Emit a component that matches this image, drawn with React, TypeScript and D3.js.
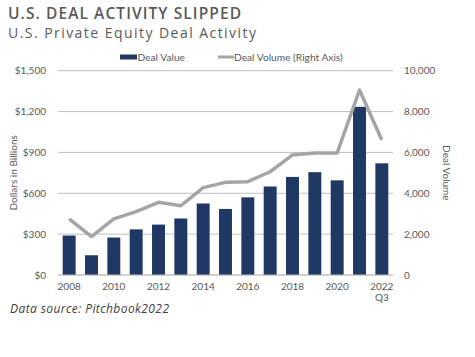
import React from "react";
import * as d3 from "d3";

const years = ["2008","2009","2010","2011","2012","2013","2014","2015","2016","2017","2018","2019","2020","2021","2022"];
const dealValue = [290,145,275,335,370,415,525,485,570,650,720,755,695,1235,820];
const dealVolume = [2750,1875,2750,3100,3560,3390,4275,4535,4570,5055,5875,5970,5970,9055,6610];
const leftTicks = [0,300,600,900,1200,1500];
const rightTicks = [0,2000,4000,6000,8000,10000];
const xTickYears = ["2008","2010","2012","2014","2016","2018","2020","2022"];

const W = 475, H = 357;
const left = 58, right = 393, top = 70.7, bottom = 275;
const NAVY = "#203864";
const LINEGRAY = "#a5a5a5";
const TEXT = "#595959";
const AXF = "Lato, 'Liberation Sans', sans-serif";

export default function App() {
  const x = d3.scaleBand<string>().domain(years).range([left, right]).paddingInner(0.42).paddingOuter(0.21);
  const yL = d3.scaleLinear().domain([0, 1500]).range([bottom, top]);
  const yR = d3.scaleLinear().domain([0, 10000]).range([bottom, top]);
  const cx = (d: string) => (x(d) as number) + x.bandwidth() / 2;
  const line = d3.line<number>().x((_, i) => cx(years[i])).y((v) => yR(v));

  return (
    <svg width={W} height={H} style={{ position: "absolute", left: 0, top: 0, background: "#fff" }}>
      <text x={8} y={19} fontFamily="'Open Sans', sans-serif" fontWeight={600} fontSize={15.5} fill={TEXT} textLength={233} lengthAdjust="spacing">U.S. DEAL ACTIVITY SLIPPED</text>
      <text x={8} y={37.5} fontFamily="'Open Sans', sans-serif" fontSize={14} fill={TEXT} textLength={248} lengthAdjust="spacing">U.S. Private Equity Deal Activity</text>

      {/* legend */}
      <rect x={120} y={54.5} width={17} height={5} fill={NAVY} />
      <text x={137.5} y={60.5} fontFamily={AXF} fontSize={10.2} fill={TEXT}>Deal Value</text>
      <rect x={218} y={55.5} width={16} height={3} fill={LINEGRAY} />
      <text x={234} y={60.5} fontFamily={AXF} fontSize={10.2} fill={TEXT}>Deal Volume (Right Axis)</text>

      {/* gridlines */}
      {leftTicks.map((t) => (
        <line key={t} x1={left} x2={right} y1={yL(t)} y2={yL(t)} stroke="#bfbfbf" strokeWidth={1} />
      ))}

      {/* bars */}
      {years.map((yr, i) => (
        <rect key={yr} x={x(yr)} width={x.bandwidth()} y={yL(dealValue[i])} height={bottom - yL(dealValue[i])} fill={NAVY} />
      ))}

      <line x1={left} x2={right} y1={bottom} y2={bottom} stroke="#bfbfbf" strokeWidth={1} />

      {/* volume line */}
      <path d={line(dealVolume) || ""} fill="none" stroke={LINEGRAY} strokeWidth={3.5} strokeLinejoin="round" />

      {/* left axis labels */}
      {leftTicks.map((t) => (
        <text key={t} x={46} y={yL(t)} dy="0.35em" textAnchor="end" fontFamily={AXF} fontSize={10} fill={TEXT}>
          {"$" + d3.format(",")(t)}
        </text>
      ))}
      <text transform={`translate(13,${(top + bottom) / 2}) rotate(-90)`} textAnchor="middle" dy="0.35em" fontFamily={AXF} fontSize={10} fill={TEXT}>Dollars in Billions</text>

      {/* right axis labels */}
      {rightTicks.map((t) => (
        <text key={t} x={404} y={yR(t)} dy="0.35em" textAnchor="start" fontFamily={AXF} fontSize={10} fill={TEXT}>
          {d3.format(",")(t)}
        </text>
      ))}
      <text transform={`translate(446,${(top + bottom) / 2}) rotate(90)`} textAnchor="middle" dy="0.35em" fontFamily={AXF} fontSize={10} fill={TEXT}>Deal Volume</text>

      {/* x labels */}
      {xTickYears.map((yr) => (
        <text key={yr} x={cx(yr)} y={290} textAnchor="middle" fontFamily={AXF} fontSize={10} fill={TEXT}>{yr}</text>
      ))}
      <text x={cx("2022")} y={301} textAnchor="middle" fontFamily={AXF} fontSize={10} fill={TEXT}>Q3</text>

      <text x={10} y={312.5} fontFamily="'Open Sans', sans-serif" fontStyle="italic" fontSize={12} fill="#404040" textLength={159} lengthAdjust="spacing">Data source: Pitchbook2022</text>
    </svg>
  );
}
